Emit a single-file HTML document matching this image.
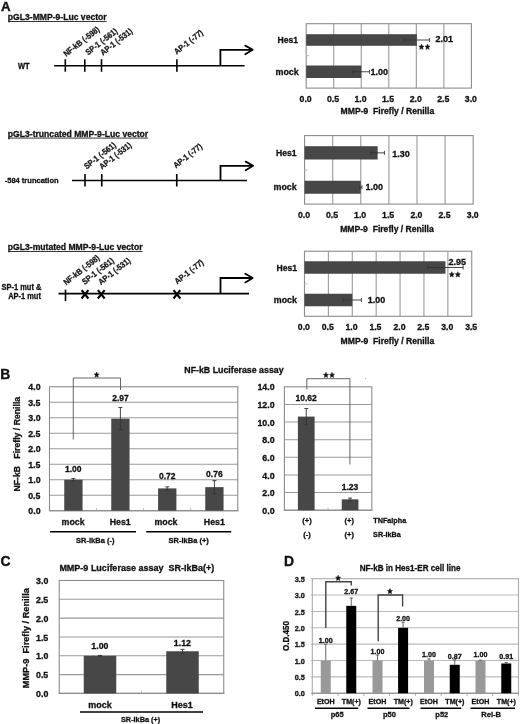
<!DOCTYPE html>
<html><head><meta charset="utf-8"><style>
html,body{margin:0;padding:0;background:#fff;}
svg{display:block;font-family:"Liberation Sans",sans-serif;will-change:transform;}
text{white-space:pre;}
</style></head><body>
<svg width="520" height="724" viewBox="0 0 520 724">
<rect width="520" height="724" fill="#fff"/>
<text x="0.97" y="10.60" font-size="13.3" font-weight="bold" fill="#111" stroke="#111" stroke-width="0.35">A</text>
<text x="0.16" y="378.50" font-size="13.9" font-weight="bold" fill="#111" stroke="#111" stroke-width="0.35">B</text>
<text x="0.54" y="565.50" font-size="13.9" font-weight="bold" fill="#111" stroke="#111" stroke-width="0.35">C</text>
<text x="283.96" y="565.50" font-size="13.9" font-weight="bold" fill="#111" stroke="#111" stroke-width="0.35">D</text>
<text x="7.84" y="20.00" font-size="8.6" font-weight="bold" fill="#111" stroke="#111" stroke-width="0.3">pGL3-MMP-9-Luc vector</text>
<line x1="8.40" y1="21.50" x2="106.63" y2="21.50" stroke="#222" stroke-width="0.9"/>
<line x1="54.20" y1="65.70" x2="244.60" y2="65.70" stroke="#000" stroke-width="1.6"/>
<line x1="65.30" y1="59.20" x2="65.30" y2="71.70" stroke="#000" stroke-width="1.6"/>
<line x1="84.80" y1="59.20" x2="84.80" y2="71.70" stroke="#000" stroke-width="1.6"/>
<line x1="101.50" y1="59.20" x2="101.50" y2="71.70" stroke="#000" stroke-width="1.6"/>
<line x1="176.90" y1="59.20" x2="176.90" y2="71.70" stroke="#000" stroke-width="1.6"/>
<path d="M220.4 65.7 V49.8 H251.8" fill="none" stroke="#000" stroke-width="1.8"/>
<path d="M245.3 45.599999999999994 L252.70000000000002 49.8 L245.3 54.199999999999996" fill="none" stroke="#000" stroke-width="1.8" stroke-linejoin="round" stroke-linecap="round"/>
<text x="0" y="0" font-size="8.4" font-weight="bold" fill="#111" stroke="#111" stroke-width="0.25" transform="translate(66.20,57.10) rotate(-38) scale(0.875,1)">NF-kB (-598)</text>
<text x="0" y="0" font-size="8.4" font-weight="bold" fill="#111" stroke="#111" stroke-width="0.25" transform="translate(88.20,55.60) rotate(-38) scale(0.875,1)">SP-1 (-561)</text>
<text x="0" y="0" font-size="8.4" font-weight="bold" fill="#111" stroke="#111" stroke-width="0.25" transform="translate(103.00,55.80) rotate(-38) scale(0.875,1)">AP-1 (-531)</text>
<text x="0" y="0" font-size="8.4" font-weight="bold" fill="#111" stroke="#111" stroke-width="0.25" transform="translate(176.80,54.80) rotate(-38) scale(0.875,1)">AP-1 (-77)</text>
<text transform="translate(18.00,68.71) scale(0.91,1)" font-size="8.2" font-weight="bold" fill="#111" stroke="#111" stroke-width="0.3" >WT</text>
<text x="7.84" y="136.60" font-size="8.6" font-weight="bold" fill="#111" stroke="#111" stroke-width="0.3">pGL3-truncated MMP-9-Luc vector</text>
<line x1="8.40" y1="138.10" x2="148.19" y2="138.10" stroke="#222" stroke-width="0.9"/>
<line x1="72.00" y1="180.50" x2="247.00" y2="180.50" stroke="#000" stroke-width="1.6"/>
<line x1="85.00" y1="174.00" x2="85.00" y2="186.50" stroke="#000" stroke-width="1.6"/>
<line x1="101.75" y1="174.00" x2="101.75" y2="186.50" stroke="#000" stroke-width="1.6"/>
<line x1="176.75" y1="174.00" x2="176.75" y2="186.50" stroke="#000" stroke-width="1.6"/>
<path d="M220.5 180.5 V165.8 H252.2" fill="none" stroke="#000" stroke-width="1.8"/>
<path d="M245.7 161.60000000000002 L253.1 165.8 L245.7 170.20000000000002" fill="none" stroke="#000" stroke-width="1.8" stroke-linejoin="round" stroke-linecap="round"/>
<text x="0" y="0" font-size="8.4" font-weight="bold" fill="#111" stroke="#111" stroke-width="0.25" transform="translate(86.70,169.60) rotate(-38) scale(0.875,1)">SP-1 (-561)</text>
<text x="0" y="0" font-size="8.4" font-weight="bold" fill="#111" stroke="#111" stroke-width="0.25" transform="translate(102.00,169.80) rotate(-38) scale(0.875,1)">AP-1 (-531)</text>
<text x="0" y="0" font-size="8.4" font-weight="bold" fill="#111" stroke="#111" stroke-width="0.25" transform="translate(176.00,168.60) rotate(-38) scale(0.875,1)">AP-1 (-77)</text>
<text transform="translate(4.70,183.48) scale(0.93,1)" font-size="8.1" font-weight="bold" fill="#111" stroke="#111" stroke-width="0.3" >-584 truncation</text>
<text x="7.84" y="250.00" font-size="8.6" font-weight="bold" fill="#111" stroke="#111" stroke-width="0.3">pGL3-mutated MMP-9-Luc vector</text>
<line x1="8.40" y1="251.50" x2="142.47" y2="251.50" stroke="#222" stroke-width="0.9"/>
<line x1="58.50" y1="293.60" x2="249.00" y2="293.60" stroke="#000" stroke-width="1.6"/>
<line x1="65.50" y1="289.60" x2="65.50" y2="301.10" stroke="#000" stroke-width="1.6"/>
<line x1="81.60" y1="290.10" x2="88.40" y2="298.50" stroke="#000" stroke-width="2.1"/>
<line x1="88.40" y1="290.10" x2="81.60" y2="298.50" stroke="#000" stroke-width="2.1"/>
<line x1="97.85" y1="290.10" x2="104.65" y2="298.50" stroke="#000" stroke-width="2.1"/>
<line x1="104.65" y1="290.10" x2="97.85" y2="298.50" stroke="#000" stroke-width="2.1"/>
<line x1="173.50" y1="290.10" x2="180.30" y2="298.50" stroke="#000" stroke-width="2.1"/>
<line x1="180.30" y1="290.10" x2="173.50" y2="298.50" stroke="#000" stroke-width="2.1"/>
<path d="M220.5 293.6 V278.0 H251.8" fill="none" stroke="#000" stroke-width="1.8"/>
<path d="M245.3 273.8 L252.70000000000002 278.0 L245.3 282.4" fill="none" stroke="#000" stroke-width="1.8" stroke-linejoin="round" stroke-linecap="round"/>
<text x="0" y="0" font-size="8.4" font-weight="bold" fill="#111" stroke="#111" stroke-width="0.25" transform="translate(66.20,285.60) rotate(-38) scale(0.875,1)">NF-kB (-598)</text>
<text x="0" y="0" font-size="8.4" font-weight="bold" fill="#111" stroke="#111" stroke-width="0.25" transform="translate(84.70,285.10) rotate(-38) scale(0.875,1)">SP-1 (-561)</text>
<text x="0" y="0" font-size="8.4" font-weight="bold" fill="#111" stroke="#111" stroke-width="0.25" transform="translate(101.00,285.30) rotate(-38) scale(0.875,1)">AP-1 (-531)</text>
<text x="0" y="0" font-size="8.4" font-weight="bold" fill="#111" stroke="#111" stroke-width="0.25" transform="translate(177.30,284.50) rotate(-38) scale(0.875,1)">AP-1 (-77)</text>
<text transform="translate(1.59,290.25) scale(0.9,1)" font-size="8.3" font-weight="bold" fill="#111" stroke="#111" stroke-width="0.3" >SP-1 mut &amp;</text>
<text transform="translate(8.20,299.35) scale(0.9,1)" font-size="8.3" font-weight="bold" fill="#111" stroke="#111" stroke-width="0.3" >AP-1 mut</text>
<rect x="306.20" y="23.70" width="165.20" height="64.40" fill="#fff"/>
<line x1="333.73" y1="23.70" x2="333.73" y2="88.10" stroke="#9a9a9a" stroke-width="1.1"/>
<line x1="361.27" y1="23.70" x2="361.27" y2="88.10" stroke="#9a9a9a" stroke-width="1.1"/>
<line x1="388.80" y1="23.70" x2="388.80" y2="88.10" stroke="#9a9a9a" stroke-width="1.1"/>
<line x1="416.33" y1="23.70" x2="416.33" y2="88.10" stroke="#9a9a9a" stroke-width="1.1"/>
<line x1="443.87" y1="23.70" x2="443.87" y2="88.10" stroke="#9a9a9a" stroke-width="1.1"/>
<rect x="306.20" y="23.70" width="165.20" height="64.40" fill="none" stroke="#8c8c8c" stroke-width="1.1"/>
<rect x="306.20" y="34.20" width="110.68" height="11.60" fill="#474747"/>
<line x1="404.22" y1="40.00" x2="429.55" y2="40.00" stroke="#333" stroke-width="0.9"/>
<line x1="404.22" y1="38.00" x2="404.22" y2="42.00" stroke="#333" stroke-width="0.9"/>
<line x1="429.55" y1="38.00" x2="429.55" y2="42.00" stroke="#333" stroke-width="0.9"/>
<text x="435.49" y="42.40" font-size="9.0" font-weight="bold" fill="#111" stroke="#111" stroke-width="0.3" >2.01</text>
<text x="277.48" y="43.05" font-size="8.6" font-weight="bold" fill="#111" stroke="#111" stroke-width="0.3" >Hes1</text>
<rect x="306.20" y="65.50" width="55.07" height="12.50" fill="#474747"/>
<line x1="353.01" y1="71.75" x2="369.53" y2="71.75" stroke="#333" stroke-width="0.9"/>
<line x1="353.01" y1="69.75" x2="353.01" y2="73.75" stroke="#333" stroke-width="0.9"/>
<line x1="369.53" y1="69.75" x2="369.53" y2="73.75" stroke="#333" stroke-width="0.9"/>
<text x="370.44" y="75.19" font-size="9.0" font-weight="bold" fill="#111" stroke="#111" stroke-width="0.3" >1.00</text>
<text x="275.55" y="74.91" font-size="8.9" font-weight="bold" fill="#111" stroke="#111" stroke-width="0.3" >mock</text>
<text x="299.55" y="101.89" font-size="8.7" font-weight="bold" fill="#111" stroke="#111" stroke-width="0.3" >0.0</text>
<text x="327.03" y="101.89" font-size="8.7" font-weight="bold" fill="#111" stroke="#111" stroke-width="0.3" >0.5</text>
<text x="354.52" y="101.89" font-size="8.7" font-weight="bold" fill="#111" stroke="#111" stroke-width="0.3" >1.0</text>
<text x="382.00" y="101.89" font-size="8.7" font-weight="bold" fill="#111" stroke="#111" stroke-width="0.3" >1.5</text>
<text x="409.71" y="101.89" font-size="8.7" font-weight="bold" fill="#111" stroke="#111" stroke-width="0.3" >2.0</text>
<text x="437.19" y="101.89" font-size="8.7" font-weight="bold" fill="#111" stroke="#111" stroke-width="0.3" >2.5</text>
<text x="464.83" y="101.89" font-size="8.7" font-weight="bold" fill="#111" stroke="#111" stroke-width="0.3" >3.0</text>
<text x="340.58" y="114.25" font-size="8.6" font-weight="bold" fill="#111" stroke="#111" stroke-width="0.3" >MMP-9  Firefly / Renilla</text>
<line x1="306.20" y1="55.65" x2="309.20" y2="55.65" stroke="#bbb" stroke-width="1"/>
<polygon points="421.45,44.10 422.16,45.96 424.00,46.12 422.60,47.44 423.03,49.40 421.45,48.35 419.87,49.40 420.30,47.44 418.90,46.12 420.74,45.96" fill="#111" stroke="#111" stroke-width="0.5" stroke-linejoin="round"/>
<polygon points="427.55,44.10 428.26,45.96 430.10,46.12 428.70,47.44 429.13,49.40 427.55,48.35 425.97,49.40 426.40,47.44 425.00,46.12 426.84,45.96" fill="#111" stroke="#111" stroke-width="0.5" stroke-linejoin="round"/>
<rect x="304.60" y="135.60" width="168.60" height="68.50" fill="#fff"/>
<line x1="332.70" y1="135.60" x2="332.70" y2="204.10" stroke="#9a9a9a" stroke-width="1.1"/>
<line x1="360.80" y1="135.60" x2="360.80" y2="204.10" stroke="#9a9a9a" stroke-width="1.1"/>
<line x1="388.90" y1="135.60" x2="388.90" y2="204.10" stroke="#9a9a9a" stroke-width="1.1"/>
<line x1="417.00" y1="135.60" x2="417.00" y2="204.10" stroke="#9a9a9a" stroke-width="1.1"/>
<line x1="445.10" y1="135.60" x2="445.10" y2="204.10" stroke="#9a9a9a" stroke-width="1.1"/>
<rect x="304.60" y="135.60" width="168.60" height="68.50" fill="none" stroke="#8c8c8c" stroke-width="1.1"/>
<rect x="304.60" y="146.20" width="73.06" height="13.30" fill="#474747"/>
<line x1="370.92" y1="152.85" x2="384.40" y2="152.85" stroke="#333" stroke-width="0.9"/>
<line x1="370.92" y1="150.85" x2="370.92" y2="154.85" stroke="#333" stroke-width="0.9"/>
<line x1="384.40" y1="150.85" x2="384.40" y2="154.85" stroke="#333" stroke-width="0.9"/>
<text x="392.24" y="156.59" font-size="9.0" font-weight="bold" fill="#111" stroke="#111" stroke-width="0.3" >1.30</text>
<text x="275.98" y="155.90" font-size="8.6" font-weight="bold" fill="#111" stroke="#111" stroke-width="0.3" >Hes1</text>
<rect x="304.60" y="180.75" width="56.20" height="13.00" fill="#474747"/>
<line x1="359.68" y1="187.25" x2="361.92" y2="187.25" stroke="#333" stroke-width="0.9"/>
<line x1="359.68" y1="185.25" x2="359.68" y2="189.25" stroke="#333" stroke-width="0.9"/>
<line x1="361.92" y1="185.25" x2="361.92" y2="189.25" stroke="#333" stroke-width="0.9"/>
<text x="365.44" y="189.89" font-size="9.0" font-weight="bold" fill="#111" stroke="#111" stroke-width="0.3" >1.00</text>
<text x="273.55" y="190.41" font-size="8.9" font-weight="bold" fill="#111" stroke="#111" stroke-width="0.3" >mock</text>
<text x="297.95" y="218.09" font-size="8.7" font-weight="bold" fill="#111" stroke="#111" stroke-width="0.3" >0.0</text>
<text x="326.00" y="218.09" font-size="8.7" font-weight="bold" fill="#111" stroke="#111" stroke-width="0.3" >0.5</text>
<text x="354.06" y="218.09" font-size="8.7" font-weight="bold" fill="#111" stroke="#111" stroke-width="0.3" >1.0</text>
<text x="382.10" y="218.09" font-size="8.7" font-weight="bold" fill="#111" stroke="#111" stroke-width="0.3" >1.5</text>
<text x="410.38" y="218.09" font-size="8.7" font-weight="bold" fill="#111" stroke="#111" stroke-width="0.3" >2.0</text>
<text x="438.42" y="218.09" font-size="8.7" font-weight="bold" fill="#111" stroke="#111" stroke-width="0.3" >2.5</text>
<text x="466.63" y="218.09" font-size="8.7" font-weight="bold" fill="#111" stroke="#111" stroke-width="0.3" >3.0</text>
<text x="340.18" y="231.95" font-size="8.6" font-weight="bold" fill="#111" stroke="#111" stroke-width="0.3" >MMP-9  Firefly / Renilla</text>
<line x1="304.60" y1="170.12" x2="307.60" y2="170.12" stroke="#bbb" stroke-width="1"/>
<rect x="304.50" y="251.25" width="167.25" height="65.05" fill="#fff"/>
<line x1="328.39" y1="251.25" x2="328.39" y2="316.30" stroke="#9a9a9a" stroke-width="1.1"/>
<line x1="352.29" y1="251.25" x2="352.29" y2="316.30" stroke="#9a9a9a" stroke-width="1.1"/>
<line x1="376.18" y1="251.25" x2="376.18" y2="316.30" stroke="#9a9a9a" stroke-width="1.1"/>
<line x1="400.07" y1="251.25" x2="400.07" y2="316.30" stroke="#9a9a9a" stroke-width="1.1"/>
<line x1="423.96" y1="251.25" x2="423.96" y2="316.30" stroke="#9a9a9a" stroke-width="1.1"/>
<line x1="447.86" y1="251.25" x2="447.86" y2="316.30" stroke="#9a9a9a" stroke-width="1.1"/>
<rect x="304.50" y="251.25" width="167.25" height="65.05" fill="none" stroke="#8c8c8c" stroke-width="1.1"/>
<rect x="304.50" y="261.25" width="140.97" height="12.50" fill="#474747"/>
<line x1="427.79" y1="267.50" x2="463.15" y2="267.50" stroke="#333" stroke-width="0.9"/>
<line x1="427.79" y1="265.50" x2="427.79" y2="269.50" stroke="#333" stroke-width="0.9"/>
<line x1="463.15" y1="265.50" x2="463.15" y2="269.50" stroke="#333" stroke-width="0.9"/>
<text x="448.58" y="265.19" font-size="9.0" font-weight="bold" fill="#111" stroke="#111" stroke-width="0.3" >2.95</text>
<text x="276.48" y="270.55" font-size="8.6" font-weight="bold" fill="#111" stroke="#111" stroke-width="0.3" >Hes1</text>
<rect x="304.50" y="293.75" width="47.79" height="12.50" fill="#474747"/>
<line x1="343.21" y1="300.00" x2="361.37" y2="300.00" stroke="#333" stroke-width="0.9"/>
<line x1="343.21" y1="298.00" x2="343.21" y2="302.00" stroke="#333" stroke-width="0.9"/>
<line x1="361.37" y1="298.00" x2="361.37" y2="302.00" stroke="#333" stroke-width="0.9"/>
<text x="367.84" y="303.39" font-size="9.0" font-weight="bold" fill="#111" stroke="#111" stroke-width="0.3" >1.00</text>
<text x="273.75" y="303.16" font-size="8.9" font-weight="bold" fill="#111" stroke="#111" stroke-width="0.3" >mock</text>
<text x="297.85" y="329.89" font-size="8.7" font-weight="bold" fill="#111" stroke="#111" stroke-width="0.3" >0.0</text>
<text x="321.69" y="329.89" font-size="8.7" font-weight="bold" fill="#111" stroke="#111" stroke-width="0.3" >0.5</text>
<text x="345.54" y="329.89" font-size="8.7" font-weight="bold" fill="#111" stroke="#111" stroke-width="0.3" >1.0</text>
<text x="369.38" y="329.89" font-size="8.7" font-weight="bold" fill="#111" stroke="#111" stroke-width="0.3" >1.5</text>
<text x="393.45" y="329.89" font-size="8.7" font-weight="bold" fill="#111" stroke="#111" stroke-width="0.3" >2.0</text>
<text x="417.29" y="329.89" font-size="8.7" font-weight="bold" fill="#111" stroke="#111" stroke-width="0.3" >2.5</text>
<text x="441.29" y="329.89" font-size="8.7" font-weight="bold" fill="#111" stroke="#111" stroke-width="0.3" >3.0</text>
<text x="465.13" y="329.89" font-size="8.7" font-weight="bold" fill="#111" stroke="#111" stroke-width="0.3" >3.5</text>
<text x="340.58" y="344.15" font-size="8.6" font-weight="bold" fill="#111" stroke="#111" stroke-width="0.3" >MMP-9  Firefly / Renilla</text>
<line x1="304.50" y1="283.75" x2="307.50" y2="283.75" stroke="#bbb" stroke-width="1"/>
<polygon points="451.75,271.70 452.46,273.56 454.30,273.72 452.90,275.04 453.33,277.00 451.75,275.95 450.17,277.00 450.60,275.04 449.20,273.72 451.04,273.56" fill="#111" stroke="#111" stroke-width="0.5" stroke-linejoin="round"/>
<polygon points="457.85,271.70 458.56,273.56 460.40,273.72 459.00,275.04 459.43,277.00 457.85,275.95 456.27,277.00 456.70,275.04 455.30,273.72 457.14,273.56" fill="#111" stroke="#111" stroke-width="0.5" stroke-linejoin="round"/>
<text x="184.31" y="372.72" font-size="8.8" font-weight="bold" fill="#111" stroke="#111" stroke-width="0.3" >NF-kB Luciferase assay</text>
<line x1="49.50" y1="495.21" x2="237.75" y2="495.21" stroke="#9a9a9a" stroke-width="1.1"/>
<line x1="49.50" y1="479.71" x2="237.75" y2="479.71" stroke="#9a9a9a" stroke-width="1.1"/>
<line x1="49.50" y1="464.22" x2="237.75" y2="464.22" stroke="#9a9a9a" stroke-width="1.1"/>
<line x1="49.50" y1="448.73" x2="237.75" y2="448.73" stroke="#9a9a9a" stroke-width="1.1"/>
<line x1="49.50" y1="433.23" x2="237.75" y2="433.23" stroke="#9a9a9a" stroke-width="1.1"/>
<line x1="49.50" y1="417.74" x2="237.75" y2="417.74" stroke="#9a9a9a" stroke-width="1.1"/>
<line x1="49.50" y1="402.24" x2="237.75" y2="402.24" stroke="#9a9a9a" stroke-width="1.1"/>
<rect x="49.50" y="386.75" width="188.25" height="123.95" fill="none" stroke="#8c8c8c" stroke-width="1.1"/>
<line x1="48.95" y1="510.70" x2="238.30" y2="510.70" stroke="#8c8c8c" stroke-width="1.1"/>
<line x1="96.56" y1="508.20" x2="96.56" y2="510.70" stroke="#aaa" stroke-width="0.8"/>
<line x1="143.62" y1="508.20" x2="143.62" y2="510.70" stroke="#aaa" stroke-width="0.8"/>
<line x1="190.69" y1="508.20" x2="190.69" y2="510.70" stroke="#aaa" stroke-width="0.8"/>
<text x="28.32" y="514.32" font-size="8.8" font-weight="bold" fill="#111" stroke="#111" stroke-width="0.3" >0.0</text>
<text x="28.21" y="498.83" font-size="8.8" font-weight="bold" fill="#111" stroke="#111" stroke-width="0.3" >0.5</text>
<text x="28.32" y="483.34" font-size="8.8" font-weight="bold" fill="#111" stroke="#111" stroke-width="0.3" >1.0</text>
<text x="28.21" y="467.84" font-size="8.8" font-weight="bold" fill="#111" stroke="#111" stroke-width="0.3" >1.5</text>
<text x="28.32" y="452.35" font-size="8.8" font-weight="bold" fill="#111" stroke="#111" stroke-width="0.3" >2.0</text>
<text x="28.21" y="436.86" font-size="8.8" font-weight="bold" fill="#111" stroke="#111" stroke-width="0.3" >2.5</text>
<text x="28.32" y="421.36" font-size="8.8" font-weight="bold" fill="#111" stroke="#111" stroke-width="0.3" >3.0</text>
<text x="28.21" y="405.87" font-size="8.8" font-weight="bold" fill="#111" stroke="#111" stroke-width="0.3" >3.5</text>
<text x="28.32" y="390.37" font-size="8.8" font-weight="bold" fill="#111" stroke="#111" stroke-width="0.3" >4.0</text>
<rect x="64.25" y="479.71" width="18.30" height="30.99" fill="#474747"/>
<line x1="73.40" y1="478.47" x2="73.40" y2="480.95" stroke="#333" stroke-width="0.9"/>
<line x1="71.40" y1="478.47" x2="75.40" y2="478.47" stroke="#333" stroke-width="0.9"/>
<line x1="71.40" y1="480.95" x2="75.40" y2="480.95" stroke="#333" stroke-width="0.9"/>
<text x="65.04" y="472.27" font-size="8.5" font-weight="bold" fill="#111" stroke="#111" stroke-width="0.3" >1.00</text>
<rect x="111.25" y="418.67" width="18.30" height="92.03" fill="#474747"/>
<line x1="120.40" y1="407.51" x2="120.40" y2="429.82" stroke="#333" stroke-width="0.9"/>
<line x1="118.40" y1="407.51" x2="122.40" y2="407.51" stroke="#333" stroke-width="0.9"/>
<line x1="118.40" y1="429.82" x2="122.40" y2="429.82" stroke="#333" stroke-width="0.9"/>
<text x="112.17" y="401.42" font-size="8.5" font-weight="bold" fill="#111" stroke="#111" stroke-width="0.3" >2.97</text>
<rect x="158.10" y="488.39" width="18.30" height="22.31" fill="#474747"/>
<line x1="167.25" y1="486.84" x2="167.25" y2="489.94" stroke="#333" stroke-width="0.9"/>
<line x1="165.25" y1="486.84" x2="169.25" y2="486.84" stroke="#333" stroke-width="0.9"/>
<line x1="165.25" y1="489.94" x2="169.25" y2="489.94" stroke="#333" stroke-width="0.9"/>
<text x="158.97" y="478.77" font-size="8.5" font-weight="bold" fill="#111" stroke="#111" stroke-width="0.3" >0.72</text>
<rect x="205.25" y="487.15" width="18.30" height="23.55" fill="#474747"/>
<line x1="214.40" y1="480.64" x2="214.40" y2="493.66" stroke="#333" stroke-width="0.9"/>
<line x1="212.40" y1="480.64" x2="216.40" y2="480.64" stroke="#333" stroke-width="0.9"/>
<line x1="212.40" y1="493.66" x2="216.40" y2="493.66" stroke="#333" stroke-width="0.9"/>
<text x="206.11" y="476.77" font-size="8.5" font-weight="bold" fill="#111" stroke="#111" stroke-width="0.3" >0.76</text>
<path d="M73.25 439.5 V378 H120.5 V390" fill="none" stroke="#555" stroke-width="0.9"/>
<polygon points="96.65,372.00 97.36,373.86 99.20,374.02 97.80,375.34 98.23,377.30 96.65,376.25 95.07,377.30 95.50,375.34 94.10,374.02 95.94,373.86" fill="#111" stroke="#111" stroke-width="0.5" stroke-linejoin="round"/>
<text x="-47.70" y="3.09" font-size="8.7" font-weight="bold" fill="#111" stroke="#111" stroke-width="0.3" transform="translate(16.60,443.80) rotate(-90) scale(1.0,1)">NF-kB   Firefly / Renilla</text>
<text x="61.62" y="524.62" font-size="8.8" font-weight="bold" fill="#111" stroke="#111" stroke-width="0.3" >mock</text>
<text x="109.71" y="524.62" font-size="8.8" font-weight="bold" fill="#111" stroke="#111" stroke-width="0.3" >Hes1</text>
<text x="154.47" y="524.62" font-size="8.8" font-weight="bold" fill="#111" stroke="#111" stroke-width="0.3" >mock</text>
<text x="203.81" y="524.62" font-size="8.8" font-weight="bold" fill="#111" stroke="#111" stroke-width="0.3" >Hes1</text>
<line x1="50.10" y1="531.70" x2="136.00" y2="531.70" stroke="#000" stroke-width="1.5"/>
<line x1="146.25" y1="531.70" x2="231.25" y2="531.70" stroke="#000" stroke-width="1.5"/>
<text x="76.11" y="543.36" font-size="7.5" font-weight="bold" fill="#111" stroke="#111" stroke-width="0.3" >SR-IkBa (-)</text>
<text x="168.57" y="543.36" font-size="7.5" font-weight="bold" fill="#111" stroke="#111" stroke-width="0.3" >SR-IkBa (+)</text>
<line x1="284.40" y1="492.57" x2="371.80" y2="492.57" stroke="#9a9a9a" stroke-width="1.1"/>
<line x1="284.40" y1="474.94" x2="371.80" y2="474.94" stroke="#9a9a9a" stroke-width="1.1"/>
<line x1="284.40" y1="457.31" x2="371.80" y2="457.31" stroke="#9a9a9a" stroke-width="1.1"/>
<line x1="284.40" y1="439.69" x2="371.80" y2="439.69" stroke="#9a9a9a" stroke-width="1.1"/>
<line x1="284.40" y1="422.06" x2="371.80" y2="422.06" stroke="#9a9a9a" stroke-width="1.1"/>
<line x1="284.40" y1="404.43" x2="371.80" y2="404.43" stroke="#9a9a9a" stroke-width="1.1"/>
<rect x="284.40" y="386.80" width="87.40" height="123.40" fill="none" stroke="#8c8c8c" stroke-width="1.1"/>
<line x1="283.85" y1="510.20" x2="372.35" y2="510.20" stroke="#8c8c8c" stroke-width="1.1"/>
<line x1="328.10" y1="507.70" x2="328.10" y2="510.20" stroke="#aaa" stroke-width="0.8"/>
<text x="262.32" y="513.82" font-size="8.8" font-weight="bold" fill="#111" stroke="#111" stroke-width="0.3" >0.0</text>
<text x="262.32" y="496.20" font-size="8.8" font-weight="bold" fill="#111" stroke="#111" stroke-width="0.3" >2.0</text>
<text x="262.32" y="478.57" font-size="8.8" font-weight="bold" fill="#111" stroke="#111" stroke-width="0.3" >4.0</text>
<text x="262.32" y="460.94" font-size="8.8" font-weight="bold" fill="#111" stroke="#111" stroke-width="0.3" >6.0</text>
<text x="262.32" y="443.31" font-size="8.8" font-weight="bold" fill="#111" stroke="#111" stroke-width="0.3" >8.0</text>
<text x="257.44" y="425.68" font-size="8.8" font-weight="bold" fill="#111" stroke="#111" stroke-width="0.3" >10.0</text>
<text x="257.44" y="408.05" font-size="8.8" font-weight="bold" fill="#111" stroke="#111" stroke-width="0.3" >12.0</text>
<text x="257.44" y="390.42" font-size="8.8" font-weight="bold" fill="#111" stroke="#111" stroke-width="0.3" >14.0</text>
<rect x="297.90" y="416.59" width="16.70" height="93.61" fill="#474747"/>
<line x1="306.25" y1="408.48" x2="306.25" y2="424.70" stroke="#333" stroke-width="0.9"/>
<line x1="304.25" y1="408.48" x2="308.25" y2="408.48" stroke="#333" stroke-width="0.9"/>
<line x1="304.25" y1="424.70" x2="308.25" y2="424.70" stroke="#333" stroke-width="0.9"/>
<text x="295.51" y="401.12" font-size="8.5" font-weight="bold" fill="#111" stroke="#111" stroke-width="0.3" >10.62</text>
<rect x="341.75" y="499.36" width="16.70" height="10.84" fill="#474747"/>
<line x1="350.10" y1="498.04" x2="350.10" y2="500.68" stroke="#333" stroke-width="0.9"/>
<line x1="348.10" y1="498.04" x2="352.10" y2="498.04" stroke="#333" stroke-width="0.9"/>
<line x1="348.10" y1="500.68" x2="352.10" y2="500.68" stroke="#333" stroke-width="0.9"/>
<text x="341.72" y="490.02" font-size="8.5" font-weight="bold" fill="#111" stroke="#111" stroke-width="0.3" >1.23</text>
<path d="M306.8 389.5 V378.7 H349.9 V464.5" fill="none" stroke="#555" stroke-width="0.9"/>
<polygon points="325.95,372.30 326.66,374.16 328.50,374.32 327.10,375.64 327.53,377.60 325.95,376.55 324.37,377.60 324.80,375.64 323.40,374.32 325.24,374.16" fill="#111" stroke="#111" stroke-width="0.5" stroke-linejoin="round"/>
<polygon points="332.05,372.30 332.76,374.16 334.60,374.32 333.20,375.64 333.63,377.60 332.05,376.55 330.47,377.60 330.90,375.64 329.50,374.32 331.34,374.16" fill="#111" stroke="#111" stroke-width="0.5" stroke-linejoin="round"/>
<text x="302.31" y="522.66" font-size="7.5" font-weight="bold" fill="#111" stroke="#111" stroke-width="0.3" >(+)</text>
<text x="344.61" y="522.66" font-size="7.5" font-weight="bold" fill="#111" stroke="#111" stroke-width="0.3" >(+)</text>
<text x="303.36" y="537.36" font-size="7.5" font-weight="bold" fill="#111" stroke="#111" stroke-width="0.3" >(-)</text>
<text x="344.61" y="537.36" font-size="7.5" font-weight="bold" fill="#111" stroke="#111" stroke-width="0.3" >(+)</text>
<text transform="translate(373.23,522.77) scale(0.93,1)" font-size="7.8" font-weight="bold" fill="#111" stroke="#111" stroke-width="0.3" >TNFalpha</text>
<circle cx="365.5" cy="378.6" r="0.6" fill="#aaa"/>
<text transform="translate(373.08,537.47) scale(0.93,1)" font-size="7.8" font-weight="bold" fill="#111" stroke="#111" stroke-width="0.3" >SR-IkBa</text>
<text x="59.39" y="570.80" font-size="9.0" font-weight="bold" fill="#111" stroke="#111" stroke-width="0.3" >MMP-9 Luciferase assay  SR-IkBa(+)</text>
<line x1="59.25" y1="674.58" x2="223.75" y2="674.58" stroke="#9a9a9a" stroke-width="1.1"/>
<line x1="59.25" y1="655.77" x2="223.75" y2="655.77" stroke="#9a9a9a" stroke-width="1.1"/>
<line x1="59.25" y1="636.95" x2="223.75" y2="636.95" stroke="#9a9a9a" stroke-width="1.1"/>
<line x1="59.25" y1="618.13" x2="223.75" y2="618.13" stroke="#9a9a9a" stroke-width="1.1"/>
<line x1="59.25" y1="599.32" x2="223.75" y2="599.32" stroke="#9a9a9a" stroke-width="1.1"/>
<rect x="59.25" y="580.50" width="164.50" height="112.90" fill="none" stroke="#8c8c8c" stroke-width="1.1"/>
<line x1="58.70" y1="693.40" x2="224.30" y2="693.40" stroke="#8c8c8c" stroke-width="1.1"/>
<line x1="141.50" y1="690.90" x2="141.50" y2="693.40" stroke="#aaa" stroke-width="0.8"/>
<text x="36.12" y="697.02" font-size="8.8" font-weight="bold" fill="#111" stroke="#111" stroke-width="0.3" >0.0</text>
<text x="36.01" y="678.21" font-size="8.8" font-weight="bold" fill="#111" stroke="#111" stroke-width="0.3" >0.5</text>
<text x="36.12" y="659.39" font-size="8.8" font-weight="bold" fill="#111" stroke="#111" stroke-width="0.3" >1.0</text>
<text x="36.01" y="640.57" font-size="8.8" font-weight="bold" fill="#111" stroke="#111" stroke-width="0.3" >1.5</text>
<text x="36.12" y="621.76" font-size="8.8" font-weight="bold" fill="#111" stroke="#111" stroke-width="0.3" >2.0</text>
<text x="36.01" y="602.94" font-size="8.8" font-weight="bold" fill="#111" stroke="#111" stroke-width="0.3" >2.5</text>
<text x="36.12" y="584.12" font-size="8.8" font-weight="bold" fill="#111" stroke="#111" stroke-width="0.3" >3.0</text>
<rect x="83.75" y="655.77" width="32.50" height="37.63" fill="#474747"/>
<line x1="100.00" y1="655.39" x2="100.00" y2="656.14" stroke="#333" stroke-width="0.9"/>
<line x1="98.00" y1="655.39" x2="102.00" y2="655.39" stroke="#333" stroke-width="0.9"/>
<line x1="98.00" y1="656.14" x2="102.00" y2="656.14" stroke="#333" stroke-width="0.9"/>
<text x="91.34" y="649.37" font-size="8.8" font-weight="bold" fill="#111" stroke="#111" stroke-width="0.3" >1.00</text>
<rect x="166.25" y="651.25" width="32.50" height="42.15" fill="#474747"/>
<line x1="182.50" y1="649.37" x2="182.50" y2="653.13" stroke="#333" stroke-width="0.9"/>
<line x1="180.50" y1="649.37" x2="184.50" y2="649.37" stroke="#333" stroke-width="0.9"/>
<line x1="180.50" y1="653.13" x2="184.50" y2="653.13" stroke="#333" stroke-width="0.9"/>
<text x="173.83" y="645.62" font-size="8.8" font-weight="bold" fill="#111" stroke="#111" stroke-width="0.3" >1.12</text>
<text x="-50.44" y="3.27" font-size="9.2" font-weight="bold" fill="#111" stroke="#111" stroke-width="0.3" transform="translate(25.40,637.80) rotate(-90) scale(1.0,1)">MMP-9  Firefly / Renilla</text>
<text x="88.35" y="707.70" font-size="9.0" font-weight="bold" fill="#111" stroke="#111" stroke-width="0.3" >mock</text>
<text x="171.37" y="707.70" font-size="9.0" font-weight="bold" fill="#111" stroke="#111" stroke-width="0.3" >Hes1</text>
<line x1="80.00" y1="712.00" x2="203.00" y2="712.00" stroke="#000" stroke-width="1.5"/>
<text x="121.00" y="721.89" font-size="7.3" font-weight="bold" fill="#111" stroke="#111" stroke-width="0.3" >SR-IkBa (+)</text>
<text transform="translate(359.75,570.70) scale(0.9,1)" font-size="9.0" font-weight="bold" fill="#111" stroke="#111" stroke-width="0.3" >NF-kB in Hes1-ER cell line</text>
<line x1="310.80" y1="676.89" x2="518.50" y2="676.89" stroke="#bababa" stroke-width="1.1"/>
<line x1="310.80" y1="660.52" x2="518.50" y2="660.52" stroke="#bababa" stroke-width="1.1"/>
<line x1="310.80" y1="644.16" x2="518.50" y2="644.16" stroke="#bababa" stroke-width="1.1"/>
<line x1="310.80" y1="627.79" x2="518.50" y2="627.79" stroke="#bababa" stroke-width="1.1"/>
<line x1="310.80" y1="611.43" x2="518.50" y2="611.43" stroke="#bababa" stroke-width="1.1"/>
<line x1="310.80" y1="595.06" x2="518.50" y2="595.06" stroke="#bababa" stroke-width="1.1"/>
<line x1="310.80" y1="578.70" x2="312.30" y2="578.70" stroke="#bababa" stroke-width="1.1"/>
<line x1="310.80" y1="693.25" x2="312.30" y2="693.25" stroke="#bababa" stroke-width="1.1"/>
<rect x="312.30" y="578.70" width="206.20" height="114.55" fill="none" stroke="#ababab" stroke-width="1.1"/>
<line x1="311.75" y1="693.25" x2="519.05" y2="693.25" stroke="#8a8a8a" stroke-width="1.1"/>
<text x="294.75" y="696.34" font-size="7.3" font-weight="bold" fill="#111" stroke="#111" stroke-width="0.3" >0.0</text>
<text x="294.65" y="679.98" font-size="7.3" font-weight="bold" fill="#111" stroke="#111" stroke-width="0.3" >0.5</text>
<text x="294.75" y="663.61" font-size="7.3" font-weight="bold" fill="#111" stroke="#111" stroke-width="0.3" >1.0</text>
<text x="294.65" y="647.25" font-size="7.3" font-weight="bold" fill="#111" stroke="#111" stroke-width="0.3" >1.5</text>
<text x="294.75" y="630.88" font-size="7.3" font-weight="bold" fill="#111" stroke="#111" stroke-width="0.3" >2.0</text>
<text x="294.65" y="614.52" font-size="7.3" font-weight="bold" fill="#111" stroke="#111" stroke-width="0.3" >2.5</text>
<text x="294.75" y="598.16" font-size="7.3" font-weight="bold" fill="#111" stroke="#111" stroke-width="0.3" >3.0</text>
<text x="294.65" y="581.79" font-size="7.3" font-weight="bold" fill="#111" stroke="#111" stroke-width="0.3" >3.5</text>
<rect x="320.75" y="660.52" width="10.00" height="32.73" fill="#999999"/>
<line x1="325.75" y1="644.16" x2="325.75" y2="660.52" stroke="#555" stroke-width="0.9"/>
<line x1="324.15" y1="644.16" x2="327.35" y2="644.16" stroke="#555" stroke-width="0.9"/>
<text x="318.77" y="643.22" font-size="7.1" font-weight="bold" fill="#111" stroke="#111" stroke-width="0.3" >1.00</text>
<rect x="346.25" y="605.86" width="10.00" height="87.39" fill="#000000"/>
<line x1="351.25" y1="598.01" x2="351.25" y2="605.86" stroke="#555" stroke-width="0.9"/>
<line x1="349.65" y1="598.01" x2="352.85" y2="598.01" stroke="#555" stroke-width="0.9"/>
<text x="344.37" y="593.92" font-size="7.1" font-weight="bold" fill="#111" stroke="#111" stroke-width="0.3" >2.67</text>
<rect x="372.50" y="660.52" width="10.00" height="32.73" fill="#999999"/>
<line x1="377.50" y1="654.96" x2="377.50" y2="660.52" stroke="#555" stroke-width="0.9"/>
<line x1="375.90" y1="654.96" x2="379.10" y2="654.96" stroke="#555" stroke-width="0.9"/>
<text x="370.52" y="653.92" font-size="7.1" font-weight="bold" fill="#111" stroke="#111" stroke-width="0.3" >1.00</text>
<rect x="398.10" y="627.79" width="10.00" height="65.46" fill="#000000"/>
<line x1="403.10" y1="622.23" x2="403.10" y2="627.79" stroke="#555" stroke-width="0.9"/>
<line x1="401.50" y1="622.23" x2="404.70" y2="622.23" stroke="#555" stroke-width="0.9"/>
<text x="396.21" y="621.12" font-size="7.1" font-weight="bold" fill="#111" stroke="#111" stroke-width="0.3" >2.00</text>
<rect x="424.00" y="660.52" width="10.00" height="32.73" fill="#999999"/>
<line x1="429.00" y1="658.88" x2="429.00" y2="660.52" stroke="#555" stroke-width="0.9"/>
<line x1="427.40" y1="658.88" x2="430.60" y2="658.88" stroke="#555" stroke-width="0.9"/>
<text x="422.02" y="657.42" font-size="7.1" font-weight="bold" fill="#111" stroke="#111" stroke-width="0.3" >1.00</text>
<rect x="449.75" y="664.78" width="10.00" height="28.47" fill="#000000"/>
<line x1="454.75" y1="659.87" x2="454.75" y2="664.78" stroke="#555" stroke-width="0.9"/>
<line x1="453.15" y1="659.87" x2="456.35" y2="659.87" stroke="#555" stroke-width="0.9"/>
<text x="447.85" y="658.92" font-size="7.1" font-weight="bold" fill="#111" stroke="#111" stroke-width="0.3" >0.87</text>
<rect x="475.50" y="660.52" width="10.00" height="32.73" fill="#999999"/>
<line x1="480.50" y1="660.19" x2="480.50" y2="660.52" stroke="#555" stroke-width="0.9"/>
<line x1="478.90" y1="660.19" x2="482.10" y2="660.19" stroke="#555" stroke-width="0.9"/>
<text x="473.52" y="657.42" font-size="7.1" font-weight="bold" fill="#111" stroke="#111" stroke-width="0.3" >1.00</text>
<rect x="501.25" y="663.47" width="10.00" height="29.78" fill="#000000"/>
<line x1="506.25" y1="662.49" x2="506.25" y2="663.47" stroke="#555" stroke-width="0.9"/>
<line x1="504.65" y1="662.49" x2="507.85" y2="662.49" stroke="#555" stroke-width="0.9"/>
<text x="499.30" y="658.92" font-size="7.1" font-weight="bold" fill="#111" stroke="#111" stroke-width="0.3" >0.91</text>
<path d="M325.8 628 V581.8 H351.25 V585.5" fill="none" stroke="#444" stroke-width="1.4"/>
<path d="M378.2 641.25 V595 H402.6 V606.6" fill="none" stroke="#444" stroke-width="1.4"/>
<polygon points="338.15,575.20 338.86,577.06 340.70,577.22 339.30,578.54 339.73,580.50 338.15,579.45 336.57,580.50 337.00,578.54 335.60,577.22 337.44,577.06" fill="#111" stroke="#111" stroke-width="0.5" stroke-linejoin="round"/>
<polygon points="389.95,588.50 390.66,590.36 392.50,590.52 391.10,591.84 391.53,593.80 389.95,592.75 388.37,593.80 388.80,591.84 387.40,590.52 389.24,590.36" fill="#111" stroke="#111" stroke-width="0.5" stroke-linejoin="round"/>
<text x="-16.38" y="3.12" font-size="8.8" font-weight="bold" fill="#111" stroke="#111" stroke-width="0.3" transform="translate(286.20,636.00) rotate(-90) scale(0.91,1)">O.D.450</text>
<line x1="312.30" y1="693.25" x2="312.30" y2="695.80" stroke="#9a9a9a" stroke-width="0.9"/>
<line x1="338.07" y1="693.25" x2="338.07" y2="695.80" stroke="#9a9a9a" stroke-width="0.9"/>
<line x1="363.85" y1="693.25" x2="363.85" y2="695.80" stroke="#9a9a9a" stroke-width="0.9"/>
<line x1="389.62" y1="693.25" x2="389.62" y2="695.80" stroke="#9a9a9a" stroke-width="0.9"/>
<line x1="415.40" y1="693.25" x2="415.40" y2="695.80" stroke="#9a9a9a" stroke-width="0.9"/>
<line x1="441.18" y1="693.25" x2="441.18" y2="695.80" stroke="#9a9a9a" stroke-width="0.9"/>
<line x1="466.95" y1="693.25" x2="466.95" y2="695.80" stroke="#9a9a9a" stroke-width="0.9"/>
<line x1="492.73" y1="693.25" x2="492.73" y2="695.80" stroke="#9a9a9a" stroke-width="0.9"/>
<line x1="518.50" y1="693.25" x2="518.50" y2="695.80" stroke="#9a9a9a" stroke-width="0.9"/>
<text x="316.88" y="704.32" font-size="7.1" font-weight="bold" fill="#111" stroke="#111" stroke-width="0.3" >EtOH</text>
<text x="341.83" y="704.32" font-size="7.1" font-weight="bold" fill="#111" stroke="#111" stroke-width="0.3" >TM(+)</text>
<text x="368.62" y="704.32" font-size="7.1" font-weight="bold" fill="#111" stroke="#111" stroke-width="0.3" >EtOH</text>
<text x="393.68" y="704.32" font-size="7.1" font-weight="bold" fill="#111" stroke="#111" stroke-width="0.3" >TM(+)</text>
<text x="420.12" y="704.32" font-size="7.1" font-weight="bold" fill="#111" stroke="#111" stroke-width="0.3" >EtOH</text>
<text x="445.33" y="704.32" font-size="7.1" font-weight="bold" fill="#111" stroke="#111" stroke-width="0.3" >TM(+)</text>
<text x="471.62" y="704.32" font-size="7.1" font-weight="bold" fill="#111" stroke="#111" stroke-width="0.3" >EtOH</text>
<text x="496.83" y="704.32" font-size="7.1" font-weight="bold" fill="#111" stroke="#111" stroke-width="0.3" >TM(+)</text>
<line x1="315.00" y1="708.30" x2="358.25" y2="708.30" stroke="#000" stroke-width="1.5"/>
<line x1="367.50" y1="708.30" x2="409.50" y2="708.30" stroke="#000" stroke-width="1.5"/>
<line x1="420.50" y1="708.30" x2="461.25" y2="708.30" stroke="#000" stroke-width="1.5"/>
<line x1="470.50" y1="708.30" x2="515.00" y2="708.30" stroke="#000" stroke-width="1.5"/>
<text x="330.65" y="717.26" font-size="7.5" font-weight="bold" fill="#111" stroke="#111" stroke-width="0.3" >p65</text>
<text x="382.95" y="717.26" font-size="7.5" font-weight="bold" fill="#111" stroke="#111" stroke-width="0.3" >p50</text>
<text x="435.34" y="717.26" font-size="7.5" font-weight="bold" fill="#111" stroke="#111" stroke-width="0.3" >p52</text>
<text x="481.37" y="717.26" font-size="7.5" font-weight="bold" fill="#111" stroke="#111" stroke-width="0.3" >Rel-B</text>
</svg>
</body></html>
